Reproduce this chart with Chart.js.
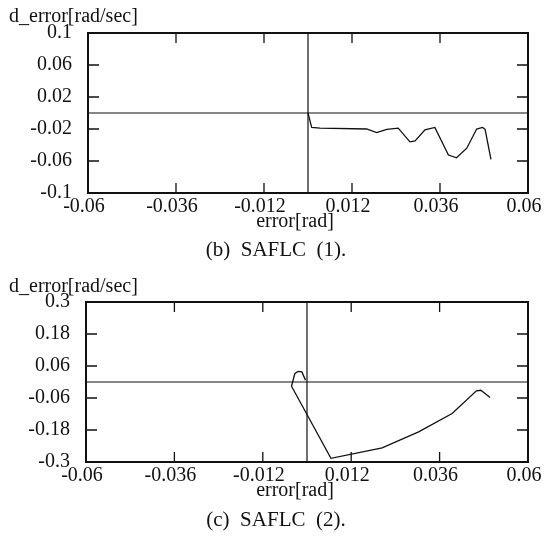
<!DOCTYPE html>
<html><head><meta charset="utf-8">
<script src="https://cdn.jsdelivr.net/npm/chart.js@4/dist/chart.umd.min.js"></script>
<style>
html,body{margin:0;padding:0;background:#fff;}
.w{position:absolute;left:0;width:544px;}
</style>
</head><body>
<div class="w" style="top:0;height:270px"><canvas id="c1"></canvas></div>
<div class="w" style="top:270px;height:271px"><canvas id="c2"></canvas></div>
<script>
// ---- data ----
const xTicks = [-0.06, -0.036, -0.012, 0.012, 0.036, 0.06];
const xTickLabels = ['-0.06', '-0.036', '-0.012', '0.012', '0.036', '0.06'];
const yTicks1 = [-0.1, -0.06, -0.02, 0.02, 0.06, 0.1];
const yTickLabels1 = ['-0.1', '-0.06', '-0.02', '0.02', '0.06', '0.1'];
const yTicks2 = [-0.3, -0.18, -0.06, 0.06, 0.18, 0.3];
const yTickLabels2 = ['-0.3', '-0.18', '-0.06', '0.06', '0.18', '0.3'];

const err1  = [0, 0.001, 0.0033, 0.016, 0.0187, 0.0215, 0.0246, 0.0278, 0.0292, 0.0319, 0.0346, 0.0383, 0.0405, 0.0433, 0.046, 0.0476, 0.0483, 0.0499];
const derr1 = [0, -0.018, -0.019, -0.020, -0.0246, -0.0204, -0.019, -0.036, -0.035, -0.021, -0.018, -0.0525, -0.056, -0.044, -0.020, -0.018, -0.0204, -0.058];

const err2  = [0.0497, 0.0472, 0.046, 0.0394, 0.0303, 0.0204, 0.0065, -0.0042, -0.0033, -0.0024, -0.0014, -0.0004];
const derr2 = [-0.058, -0.031, -0.033, -0.118, -0.187, -0.247, -0.286, -0.016, 0.032, 0.040, 0.038, 0.007];

const yTitle = 'd_error[rad/sec]';
const xTitle = 'error[rad]';
const caption1 = '(b)  SAFLC  (1).';
const caption2 = '(c)  SAFLC  (2).';

const FONT = "'Liberation Serif', 'Times New Roman', serif";
const INK = '#111';

const decor = {
  id: 'decor',
  afterDraw(chart, args, o) {
    const {ctx, chartArea: a, scales: {x, y}} = chart;
    ctx.save();
    ctx.strokeStyle = INK;
    // zero lines
    ctx.lineWidth = 1.2;
    const x0 = x.getPixelForValue(0), y0 = y.getPixelForValue(0);
    ctx.beginPath();
    ctx.moveTo(x0, a.top); ctx.lineTo(x0, a.bottom);
    ctx.moveTo(a.left, y0); ctx.lineTo(a.right, y0);
    ctx.stroke();
    // inner ticks
    ctx.lineWidth = 1.3;
    ctx.beginPath();
    x.ticks.forEach(t => {
      const px = x.getPixelForValue(t.value);
      if (px <= a.left + 2 || px >= a.right - 2) return;
      ctx.moveTo(px, a.bottom); ctx.lineTo(px, a.bottom - 10);
      ctx.moveTo(px, a.top); ctx.lineTo(px, a.top + 10);
    });
    y.ticks.forEach(t => {
      const py = y.getPixelForValue(t.value);
      if (py <= a.top + 2 || py >= a.bottom - 2) return;
      ctx.moveTo(a.left, py); ctx.lineTo(a.left + 11, py);
      ctx.moveTo(a.right, py); ctx.lineTo(a.right - 11, py);
    });
    ctx.stroke();
    // frame
    ctx.lineWidth = 2;
    ctx.strokeRect(a.left, a.top, a.right - a.left, a.bottom - a.top);
    // texts
    ctx.fillStyle = INK;
    ctx.font = '20px ' + FONT;
    ctx.textBaseline = 'middle';
    ctx.textAlign = 'left';
    ctx.fillText(yTitle, 9, o.yTitleY);
    ctx.textAlign = 'center';
    ctx.fillText(xTitle, 295, o.xTitleY);
    ctx.font = '21px ' + FONT;
    ctx.fillText(o.caption, 276, o.captionY);
    ctx.restore();
  }
};

function make(id, ex, ey, yT, yL, H, left, top, o) {
  const bottomH = H - top - 160;
  return new Chart(document.getElementById(id), {
    type: 'scatter',
    data: { datasets: [{ data: ex.map((v, i) => ({x: v, y: ey[i]})), showLine: true,
      borderColor: INK, borderWidth: 1.3, pointRadius: 0, tension: 0, fill: false }] },
    options: {
      responsive: true, maintainAspectRatio: false, animation: false,
      layout: { padding: { left: 0, right: 16, top: top, bottom: 0 } },
      plugins: { legend: { display: false }, tooltip: { enabled: false }, decor: o },
      scales: {
        x: {
          type: 'linear', min: xTicks[0], max: xTicks[xTicks.length - 1],
          afterBuildTicks: s => { s.ticks = xTicks.map(v => ({value: v})); },
          afterFit: s => { s.height = bottomH; s.paddingLeft = 0; s.paddingRight = 0; },
          grid: { display: false, drawTicks: false }, border: { display: false },
          ticks: { autoSkip: false, maxRotation: 0, padding: 2, labelOffset: -4, color: INK,
            font: { family: FONT, size: 20 },
            callback: (v, i) => xTickLabels[i] }
        },
        y: {
          type: 'linear', min: yT[0], max: yT[yT.length - 1],
          afterBuildTicks: s => { s.ticks = yT.map(v => ({value: v})); },
          afterFit: s => { s.width = left; s.paddingTop = 0; s.paddingBottom = 0; },
          grid: { display: false, drawTicks: false }, border: { display: false },
          ticks: { autoSkip: false, padding: 16, color: INK,
            font: { family: FONT, size: 20 },
            callback: (v, i) => yL[i] }
        }
      }
    },
    plugins: [decor]
  });
}

make('c1', err1, derr1, yTicks1, yTickLabels1, 270, 88, 33,
  { yTitleY: 17, xTitleY: 222, caption: caption1, captionY: 250 });
make('c2', err2, derr2, yTicks2, yTickLabels2, 271, 86, 32,
  { yTitleY: 17, xTitleY: 221, caption: caption2, captionY: 250 });
</script>
</body></html>
